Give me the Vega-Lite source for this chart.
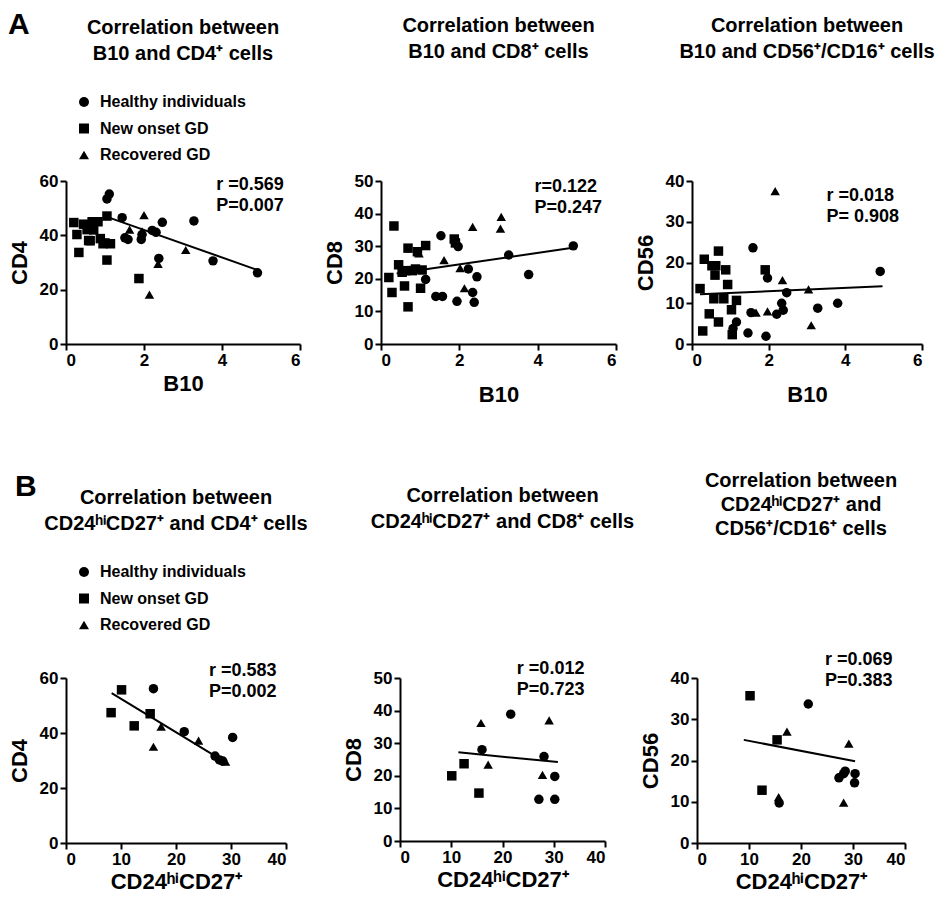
{
  "$schema": "https://vega.github.io/schema/vega-lite/v6.json",
  "padding": {"left": 8, "top": 10, "right": 2, "bottom": 2},
  "background": "white",
  "datasets": {
    "a1": [
      {"x": 1.11, "y": 55.2, "group": "Healthy individuals"},
      {"x": 1.05, "y": 53.4, "group": "Healthy individuals"},
      {"x": 1.44, "y": 46.5, "group": "Healthy individuals"},
      {"x": 1.51, "y": 39.1, "group": "Healthy individuals"},
      {"x": 1.59, "y": 38.5, "group": "Healthy individuals"},
      {"x": 1.95, "y": 40.3, "group": "Healthy individuals"},
      {"x": 1.93, "y": 38.5, "group": "Healthy individuals"},
      {"x": 2.21, "y": 41.8, "group": "Healthy individuals"},
      {"x": 2.31, "y": 41.1, "group": "Healthy individuals"},
      {"x": 2.47, "y": 44.8, "group": "Healthy individuals"},
      {"x": 2.38, "y": 31.5, "group": "Healthy individuals"},
      {"x": 3.28, "y": 45.3, "group": "Healthy individuals"},
      {"x": 3.77, "y": 30.6, "group": "Healthy individuals"},
      {"x": 4.91, "y": 26.2, "group": "Healthy individuals"},
      {"x": 0.2, "y": 44.7, "group": "New onset GD"},
      {"x": 0.28, "y": 40.3, "group": "New onset GD"},
      {"x": 0.33, "y": 33.7, "group": "New onset GD"},
      {"x": 0.45, "y": 44.1, "group": "New onset GD"},
      {"x": 0.54, "y": 42.1, "group": "New onset GD"},
      {"x": 0.58, "y": 38.1, "group": "New onset GD"},
      {"x": 0.62, "y": 38.0, "group": "New onset GD"},
      {"x": 0.67, "y": 45.0, "group": "New onset GD"},
      {"x": 0.71, "y": 42.0, "group": "New onset GD"},
      {"x": 0.82, "y": 45.0, "group": "New onset GD"},
      {"x": 0.88, "y": 38.8, "group": "New onset GD"},
      {"x": 0.95, "y": 36.9, "group": "New onset GD"},
      {"x": 1.0, "y": 37.2, "group": "New onset GD"},
      {"x": 1.05, "y": 47.1, "group": "New onset GD"},
      {"x": 1.14, "y": 36.9, "group": "New onset GD"},
      {"x": 1.05, "y": 30.9, "group": "New onset GD"},
      {"x": 1.87, "y": 24.1, "group": "New onset GD"},
      {"x": 2.0, "y": 47.4, "group": "Recovered GD"},
      {"x": 1.63, "y": 42.1, "group": "Recovered GD"},
      {"x": 1.95, "y": 41.5, "group": "Recovered GD"},
      {"x": 3.07, "y": 34.6, "group": "Recovered GD"},
      {"x": 2.36, "y": 29.5, "group": "Recovered GD"},
      {"x": 2.14, "y": 18.2, "group": "Recovered GD"}
    ],
    "a2": [
      {"x": 1.53, "y": 33.2, "group": "Healthy individuals"},
      {"x": 1.97, "y": 29.9, "group": "Healthy individuals"},
      {"x": 1.14, "y": 19.8, "group": "Healthy individuals"},
      {"x": 1.4, "y": 14.6, "group": "Healthy individuals"},
      {"x": 1.57, "y": 14.6, "group": "Healthy individuals"},
      {"x": 1.94, "y": 13.1, "group": "Healthy individuals"},
      {"x": 2.23, "y": 23.0, "group": "Healthy individuals"},
      {"x": 2.45, "y": 20.6, "group": "Healthy individuals"},
      {"x": 2.34, "y": 15.8, "group": "Healthy individuals"},
      {"x": 2.38, "y": 12.8, "group": "Healthy individuals"},
      {"x": 3.26, "y": 27.3, "group": "Healthy individuals"},
      {"x": 3.77, "y": 21.3, "group": "Healthy individuals"},
      {"x": 4.91, "y": 30.1, "group": "Healthy individuals"},
      {"x": 0.33, "y": 36.2, "group": "New onset GD"},
      {"x": 0.2, "y": 20.4, "group": "New onset GD"},
      {"x": 0.28, "y": 15.8, "group": "New onset GD"},
      {"x": 0.45, "y": 24.3, "group": "New onset GD"},
      {"x": 0.54, "y": 22.0, "group": "New onset GD"},
      {"x": 0.63, "y": 22.5, "group": "New onset GD"},
      {"x": 0.6, "y": 17.8, "group": "New onset GD"},
      {"x": 0.69, "y": 29.4, "group": "New onset GD"},
      {"x": 0.69, "y": 11.4, "group": "New onset GD"},
      {"x": 0.8, "y": 22.5, "group": "New onset GD"},
      {"x": 0.88, "y": 23.0, "group": "New onset GD"},
      {"x": 0.93, "y": 28.3, "group": "New onset GD"},
      {"x": 1.05, "y": 22.7, "group": "New onset GD"},
      {"x": 1.01, "y": 17.1, "group": "New onset GD"},
      {"x": 1.14, "y": 30.2, "group": "New onset GD"},
      {"x": 1.87, "y": 32.2, "group": "New onset GD"},
      {"x": 1.9, "y": 31.0, "group": "New onset GD"},
      {"x": 2.34, "y": 35.9, "group": "Recovered GD"},
      {"x": 1.61, "y": 25.7, "group": "Recovered GD"},
      {"x": 3.07, "y": 39.0, "group": "Recovered GD"},
      {"x": 3.05, "y": 35.4, "group": "Recovered GD"},
      {"x": 2.02, "y": 23.3, "group": "Recovered GD"},
      {"x": 2.13, "y": 17.1, "group": "Recovered GD"},
      {"x": 0.97, "y": 27.8, "group": "Recovered GD"}
    ],
    "a3": [
      {"x": 1.59, "y": 23.6, "group": "Healthy individuals"},
      {"x": 1.97, "y": 16.2, "group": "Healthy individuals"},
      {"x": 2.47, "y": 12.6, "group": "Healthy individuals"},
      {"x": 2.34, "y": 10.0, "group": "Healthy individuals"},
      {"x": 2.38, "y": 8.3, "group": "Healthy individuals"},
      {"x": 2.21, "y": 7.3, "group": "Healthy individuals"},
      {"x": 3.28, "y": 8.8, "group": "Healthy individuals"},
      {"x": 3.8, "y": 10.0, "group": "Healthy individuals"},
      {"x": 4.91, "y": 17.8, "group": "Healthy individuals"},
      {"x": 1.54, "y": 7.7, "group": "Healthy individuals"},
      {"x": 1.46, "y": 2.7, "group": "Healthy individuals"},
      {"x": 1.93, "y": 1.9, "group": "Healthy individuals"},
      {"x": 1.16, "y": 5.4, "group": "Healthy individuals"},
      {"x": 1.07, "y": 3.8, "group": "Healthy individuals"},
      {"x": 0.21, "y": 13.6, "group": "New onset GD"},
      {"x": 0.32, "y": 20.8, "group": "New onset GD"},
      {"x": 0.28, "y": 3.2, "group": "New onset GD"},
      {"x": 0.45, "y": 7.4, "group": "New onset GD"},
      {"x": 0.52, "y": 19.2, "group": "New onset GD"},
      {"x": 0.62, "y": 19.2, "group": "New onset GD"},
      {"x": 0.6, "y": 16.9, "group": "New onset GD"},
      {"x": 0.69, "y": 22.8, "group": "New onset GD"},
      {"x": 0.69, "y": 5.4, "group": "New onset GD"},
      {"x": 0.57, "y": 11.1, "group": "New onset GD"},
      {"x": 0.83, "y": 11.1, "group": "New onset GD"},
      {"x": 0.88, "y": 18.2, "group": "New onset GD"},
      {"x": 0.93, "y": 14.6, "group": "New onset GD"},
      {"x": 1.03, "y": 8.4, "group": "New onset GD"},
      {"x": 1.16, "y": 10.7, "group": "New onset GD"},
      {"x": 1.05, "y": 2.3, "group": "New onset GD"},
      {"x": 1.91, "y": 18.2, "group": "New onset GD"},
      {"x": 2.17, "y": 37.5, "group": "Recovered GD"},
      {"x": 2.36, "y": 15.7, "group": "Recovered GD"},
      {"x": 3.04, "y": 13.4, "group": "Recovered GD"},
      {"x": 3.11, "y": 4.6, "group": "Recovered GD"},
      {"x": 1.67, "y": 7.7, "group": "Recovered GD"},
      {"x": 1.97, "y": 8.0, "group": "Recovered GD"}
    ],
    "b1": [
      {"x": 8.2, "y": 47.4, "group": "New onset GD"},
      {"x": 10.1, "y": 55.7, "group": "New onset GD"},
      {"x": 12.4, "y": 42.6, "group": "New onset GD"},
      {"x": 15.3, "y": 47.0, "group": "New onset GD"},
      {"x": 15.9, "y": 56.1, "group": "Healthy individuals"},
      {"x": 21.5, "y": 40.5, "group": "Healthy individuals"},
      {"x": 30.3, "y": 38.4, "group": "Healthy individuals"},
      {"x": 27.1, "y": 31.6, "group": "Healthy individuals"},
      {"x": 27.9, "y": 30.2, "group": "Healthy individuals"},
      {"x": 28.5, "y": 29.8, "group": "Healthy individuals"},
      {"x": 15.9, "y": 35.0, "group": "Recovered GD"},
      {"x": 17.3, "y": 42.3, "group": "Recovered GD"},
      {"x": 24.1, "y": 37.2, "group": "Recovered GD"},
      {"x": 29.0, "y": 29.6, "group": "Recovered GD"}
    ],
    "b2": [
      {"x": 10.1, "y": 20.0, "group": "New onset GD"},
      {"x": 12.5, "y": 23.7, "group": "New onset GD"},
      {"x": 15.4, "y": 14.7, "group": "New onset GD"},
      {"x": 21.6, "y": 38.9, "group": "Healthy individuals"},
      {"x": 16.0, "y": 28.0, "group": "Healthy individuals"},
      {"x": 28.1, "y": 25.9, "group": "Healthy individuals"},
      {"x": 30.2, "y": 19.8, "group": "Healthy individuals"},
      {"x": 27.1, "y": 12.8, "group": "Healthy individuals"},
      {"x": 30.2, "y": 12.8, "group": "Healthy individuals"},
      {"x": 15.8, "y": 36.2, "group": "Recovered GD"},
      {"x": 17.2, "y": 23.4, "group": "Recovered GD"},
      {"x": 29.1, "y": 37.0, "group": "Recovered GD"},
      {"x": 27.8, "y": 20.3, "group": "Recovered GD"}
    ],
    "b3": [
      {"x": 10.2, "y": 35.7, "group": "New onset GD"},
      {"x": 12.5, "y": 12.8, "group": "New onset GD"},
      {"x": 15.4, "y": 25.0, "group": "New onset GD"},
      {"x": 21.4, "y": 33.7, "group": "Healthy individuals"},
      {"x": 15.8, "y": 9.7, "group": "Healthy individuals"},
      {"x": 27.3, "y": 15.8, "group": "Healthy individuals"},
      {"x": 28.2, "y": 16.8, "group": "Healthy individuals"},
      {"x": 28.5, "y": 17.4, "group": "Healthy individuals"},
      {"x": 30.4, "y": 16.8, "group": "Healthy individuals"},
      {"x": 30.3, "y": 14.6, "group": "Healthy individuals"},
      {"x": 17.3, "y": 27.0, "group": "Recovered GD"},
      {"x": 15.7, "y": 11.1, "group": "Recovered GD"},
      {"x": 29.2, "y": 24.1, "group": "Recovered GD"},
      {"x": 28.2, "y": 9.8, "group": "Recovered GD"}
    ],
    "fa1": [{"x": 1.05, "y": 46.8}, {"x": 4.94, "y": 27.1}],
    "fa2": [{"x": 0.4, "y": 21.6}, {"x": 4.94, "y": 29.6}],
    "fa3": [{"x": 0.21, "y": 12.2}, {"x": 4.97, "y": 14.2}],
    "fb1": [{"x": 8.3, "y": 54.5}, {"x": 29.1, "y": 29.2}],
    "fb2": [{"x": 11.4, "y": 27.2}, {"x": 30.8, "y": 24.2}],
    "fb3": [{"x": 9.0, "y": 25.0}, {"x": 30.4, "y": 19.8}]
  },
  "vconcat": [
    {
      "title": {"text": "A", "anchor": "start", "fontSize": 30, "offset": -24},
      "spacing": 22,
      "resolve": {"scale": {"shape": "independent", "x": "independent", "y": "independent"}, "legend": {"shape": "independent"}},
      "hconcat": [
        {
          "width": 234, "height": 163,
          "title": {"text": ["Correlation between", "B10 and CD4⁺ cells"], "offset": 20},
          "layer": [
            {"data": {"name": "a1"}, "mark": {"type": "point", "filled": true, "opacity": 1, "color": "black", "size": 90},
             "encoding": {
               "x": {"field": "x", "type": "quantitative", "scale": {"domain": [0, 6], "nice": false}, "axis": {"values": [0, 2, 4, 6], "title": "B10", "titlePadding": 5}},
               "y": {"field": "y", "type": "quantitative", "scale": {"domain": [0, 60], "nice": false}, "axis": {"values": [0, 20, 40, 60], "title": "CD4"}},
               "shape": {"field": "group", "type": "nominal", "scale": {"domain": ["Healthy individuals", "New onset GD", "Recovered GD"], "range": ["circle", "square", "triangle-up"]}, "legend": {"title": null, "orient": "top", "direction": "vertical", "padding": 10, "offset": 8}}}},
            {"data": {"name": "fa1"}, "mark": {"type": "line", "color": "black", "strokeWidth": 2},
             "encoding": {
               "x": {"field": "x", "type": "quantitative", "scale": {"domain": [0, 6], "nice": false}, "axis": {"values": [0, 2, 4, 6], "title": "B10", "titlePadding": 5}},
               "y": {"field": "y", "type": "quantitative", "scale": {"domain": [0, 60], "nice": false}, "axis": {"values": [0, 20, 40, 60], "title": "CD4"}}}},
            {"data": {"values": [{}]}, "mark": {"type": "text", "text": ["r =0.569", "P=0.007"], "align": "left", "baseline": "top", "fontSize": 18, "fontWeight": "bold", "lineHeight": 21},
             "encoding": {
               "x": {"datum": 3.85, "type": "quantitative", "scale": {"domain": [0, 6], "nice": false}, "axis": {"values": [0, 2, 4, 6], "title": "B10", "titlePadding": 5}},
               "y": {"datum": 62, "type": "quantitative", "scale": {"domain": [0, 60], "nice": false}, "axis": {"values": [0, 20, 40, 60], "title": "CD4"}}}}
          ]
        },
        {
          "spacing": 17,
          "resolve": {"scale": {"shape": "independent", "x": "independent", "y": "independent"}, "legend": {"shape": "independent"}},
          "hconcat": [
            {
              "width": 235, "height": 163,
              "title": {"text": ["Correlation between", "B10 and CD8⁺ cells"], "offset": 110},
              "layer": [
                {"data": {"name": "a2"}, "mark": {"type": "point", "filled": true, "opacity": 1, "color": "black", "size": 90},
                 "encoding": {
                   "x": {"field": "x", "type": "quantitative", "scale": {"domain": [0, 6], "nice": false}, "axis": {"values": [0, 2, 4, 6], "title": "B10", "titlePadding": 16}},
                   "y": {"field": "y", "type": "quantitative", "scale": {"domain": [0, 50], "nice": false}, "axis": {"values": [0, 10, 20, 30, 40, 50], "title": "CD8"}},
                   "shape": {"field": "group", "type": "nominal", "scale": {"domain": ["Healthy individuals", "New onset GD", "Recovered GD"], "range": ["circle", "square", "triangle-up"]}, "legend": null}}},
                {"data": {"name": "fa2"}, "mark": {"type": "line", "color": "black", "strokeWidth": 2},
                 "encoding": {
                   "x": {"field": "x", "type": "quantitative", "scale": {"domain": [0, 6], "nice": false}, "axis": {"values": [0, 2, 4, 6], "title": "B10", "titlePadding": 16}},
                   "y": {"field": "y", "type": "quantitative", "scale": {"domain": [0, 50], "nice": false}, "axis": {"values": [0, 10, 20, 30, 40, 50], "title": "CD8"}}}},
                {"data": {"values": [{}]}, "mark": {"type": "text", "text": ["r=0.122", "P=0.247"], "align": "left", "baseline": "top", "fontSize": 18, "fontWeight": "bold", "lineHeight": 21},
                 "encoding": {
                   "x": {"datum": 3.92, "type": "quantitative", "scale": {"domain": [0, 6], "nice": false}, "axis": {"values": [0, 2, 4, 6], "title": "B10", "titlePadding": 16}},
                   "y": {"datum": 51, "type": "quantitative", "scale": {"domain": [0, 50], "nice": false}, "axis": {"values": [0, 10, 20, 30, 40, 50], "title": "CD8"}}}}
              ]
            },
            {
              "width": 230, "height": 163,
              "title": {"text": ["Correlation between", "B10 and CD56⁺/CD16⁺ cells"], "offset": 110},
              "layer": [
                {"data": {"name": "a3"}, "mark": {"type": "point", "filled": true, "opacity": 1, "color": "black", "size": 90},
                 "encoding": {
                   "x": {"field": "x", "type": "quantitative", "scale": {"domain": [0, 6], "nice": false}, "axis": {"values": [0, 2, 4, 6], "title": "B10", "titlePadding": 16}},
                   "y": {"field": "y", "type": "quantitative", "scale": {"domain": [0, 40], "nice": false}, "axis": {"values": [0, 10, 20, 30, 40], "title": "CD56"}},
                   "shape": {"field": "group", "type": "nominal", "scale": {"domain": ["Healthy individuals", "New onset GD", "Recovered GD"], "range": ["circle", "square", "triangle-up"]}, "legend": null}}},
                {"data": {"name": "fa3"}, "mark": {"type": "line", "color": "black", "strokeWidth": 2},
                 "encoding": {
                   "x": {"field": "x", "type": "quantitative", "scale": {"domain": [0, 6], "nice": false}, "axis": {"values": [0, 2, 4, 6], "title": "B10", "titlePadding": 16}},
                   "y": {"field": "y", "type": "quantitative", "scale": {"domain": [0, 40], "nice": false}, "axis": {"values": [0, 10, 20, 30, 40], "title": "CD56"}}}},
                {"data": {"values": [{}]}, "mark": {"type": "text", "text": ["r =0.018", "P= 0.908"], "align": "left", "baseline": "top", "fontSize": 18, "fontWeight": "bold", "lineHeight": 21},
                 "encoding": {
                   "x": {"datum": 3.51, "type": "quantitative", "scale": {"domain": [0, 6], "nice": false}, "axis": {"values": [0, 2, 4, 6], "title": "B10", "titlePadding": 16}},
                   "y": {"datum": 38.5, "type": "quantitative", "scale": {"domain": [0, 40], "nice": false}, "axis": {"values": [0, 10, 20, 30, 40], "title": "CD56"}}}}
              ]
            }
          ]
        }
      ]
    },
    {
      "title": {"text": "B", "anchor": "start", "fontSize": 30, "offset": -31, "dx": 7},
      "spacing": 34,
      "resolve": {"scale": {"shape": "independent", "x": "independent", "y": "independent"}, "legend": {"shape": "independent"}},
      "hconcat": [
        {
          "width": 220, "height": 165,
          "title": {"text": ["Correlation between", "CD24ʰⁱCD27⁺ and CD4⁺ cells"], "offset": 20},
          "layer": [
            {"data": {"name": "b1"}, "mark": {"type": "point", "filled": true, "opacity": 1, "color": "black", "size": 90},
             "encoding": {
               "x": {"field": "x", "type": "quantitative", "scale": {"domain": [0, 40], "nice": false}, "axis": {"values": [0, 10, 20, 30, 40], "title": "CD24ʰⁱCD27⁺", "titlePadding": 4}},
               "y": {"field": "y", "type": "quantitative", "scale": {"domain": [0, 60], "nice": false}, "axis": {"values": [0, 20, 40, 60], "title": "CD4"}},
               "shape": {"field": "group", "type": "nominal", "scale": {"domain": ["Healthy individuals", "New onset GD", "Recovered GD"], "range": ["circle", "square", "triangle-up"]}, "legend": {"title": null, "orient": "top", "direction": "vertical", "padding": 10, "offset": 35}}}},
            {"data": {"name": "fb1"}, "mark": {"type": "line", "color": "black", "strokeWidth": 2},
             "encoding": {
               "x": {"field": "x", "type": "quantitative", "scale": {"domain": [0, 40], "nice": false}, "axis": {"values": [0, 10, 20, 30, 40], "title": "CD24ʰⁱCD27⁺", "titlePadding": 4}},
               "y": {"field": "y", "type": "quantitative", "scale": {"domain": [0, 60], "nice": false}, "axis": {"values": [0, 20, 40, 60], "title": "CD4"}}}},
            {"data": {"values": [{}]}, "mark": {"type": "text", "text": ["r =0.583", "P=0.002"], "align": "left", "baseline": "top", "fontSize": 18, "fontWeight": "bold", "lineHeight": 21},
             "encoding": {
               "x": {"datum": 26, "type": "quantitative", "scale": {"domain": [0, 40], "nice": false}, "axis": {"values": [0, 10, 20, 30, 40], "title": "CD24ʰⁱCD27⁺", "titlePadding": 4}},
               "y": {"datum": 66, "type": "quantitative", "scale": {"domain": [0, 60], "nice": false}, "axis": {"values": [0, 20, 40, 60], "title": "CD4"}}}}
          ]
        },
        {
          "spacing": 4,
          "resolve": {"scale": {"shape": "independent", "x": "independent", "y": "independent"}, "legend": {"shape": "independent"}},
          "hconcat": [
            {
              "width": 205, "height": 163,
              "title": {"text": ["Correlation between", "CD24ʰⁱCD27⁺ and CD8⁺ cells"], "offset": 128},
              "layer": [
                {"data": {"name": "b2"}, "mark": {"type": "point", "filled": true, "opacity": 1, "color": "black", "size": 90},
                 "encoding": {
                   "x": {"field": "x", "type": "quantitative", "scale": {"domain": [0, 40], "nice": false}, "axis": {"values": [0, 10, 20, 30, 40], "title": "CD24ʰⁱCD27⁺", "titlePadding": 4}},
                   "y": {"field": "y", "type": "quantitative", "scale": {"domain": [0, 50], "nice": false}, "axis": {"values": [0, 10, 20, 30, 40, 50], "title": "CD8"}},
                   "shape": {"field": "group", "type": "nominal", "scale": {"domain": ["Healthy individuals", "New onset GD", "Recovered GD"], "range": ["circle", "square", "triangle-up"]}, "legend": null}}},
                {"data": {"name": "fb2"}, "mark": {"type": "line", "color": "black", "strokeWidth": 2},
                 "encoding": {
                   "x": {"field": "x", "type": "quantitative", "scale": {"domain": [0, 40], "nice": false}, "axis": {"values": [0, 10, 20, 30, 40], "title": "CD24ʰⁱCD27⁺", "titlePadding": 4}},
                   "y": {"field": "y", "type": "quantitative", "scale": {"domain": [0, 50], "nice": false}, "axis": {"values": [0, 10, 20, 30, 40, 50], "title": "CD8"}}}},
                {"data": {"values": [{}]}, "mark": {"type": "text", "text": ["r =0.012", "P=0.723"], "align": "left", "baseline": "top", "fontSize": 18, "fontWeight": "bold", "lineHeight": 21},
                 "encoding": {
                   "x": {"datum": 22.8, "type": "quantitative", "scale": {"domain": [0, 40], "nice": false}, "axis": {"values": [0, 10, 20, 30, 40], "title": "CD24ʰⁱCD27⁺", "titlePadding": 4}},
                   "y": {"datum": 55.5, "type": "quantitative", "scale": {"domain": [0, 50], "nice": false}, "axis": {"values": [0, 10, 20, 30, 40, 50], "title": "CD8"}}}}
              ]
            },
            {
              "width": 208, "height": 165,
              "title": {"text": ["Correlation between", "CD24ʰⁱCD27⁺ and", "CD56⁺/CD16⁺ cells"], "offset": 112, "lineHeight": 24},
              "layer": [
                {"data": {"name": "b3"}, "mark": {"type": "point", "filled": true, "opacity": 1, "color": "black", "size": 90},
                 "encoding": {
                   "x": {"field": "x", "type": "quantitative", "scale": {"domain": [0, 40], "nice": false}, "axis": {"values": [0, 10, 20, 30, 40], "title": "CD24ʰⁱCD27⁺", "titlePadding": 4}},
                   "y": {"field": "y", "type": "quantitative", "scale": {"domain": [0, 40], "nice": false}, "axis": {"values": [0, 10, 20, 30, 40], "title": "CD56"}},
                   "shape": {"field": "group", "type": "nominal", "scale": {"domain": ["Healthy individuals", "New onset GD", "Recovered GD"], "range": ["circle", "square", "triangle-up"]}, "legend": null}}},
                {"data": {"name": "fb3"}, "mark": {"type": "line", "color": "black", "strokeWidth": 2},
                 "encoding": {
                   "x": {"field": "x", "type": "quantitative", "scale": {"domain": [0, 40], "nice": false}, "axis": {"values": [0, 10, 20, 30, 40], "title": "CD24ʰⁱCD27⁺", "titlePadding": 4}},
                   "y": {"field": "y", "type": "quantitative", "scale": {"domain": [0, 40], "nice": false}, "axis": {"values": [0, 10, 20, 30, 40], "title": "CD56"}}}},
                {"data": {"values": [{}]}, "mark": {"type": "text", "text": ["r =0.069", "P=0.383"], "align": "left", "baseline": "top", "fontSize": 18, "fontWeight": "bold", "lineHeight": 21},
                 "encoding": {
                   "x": {"datum": 24.6, "type": "quantitative", "scale": {"domain": [0, 40], "nice": false}, "axis": {"values": [0, 10, 20, 30, 40], "title": "CD24ʰⁱCD27⁺", "titlePadding": 4}},
                   "y": {"datum": 46.5, "type": "quantitative", "scale": {"domain": [0, 40], "nice": false}, "axis": {"values": [0, 10, 20, 30, 40], "title": "CD56"}}}}
              ]
            }
          ]
        }
      ]
    }
  ],
  "spacing": 66,
  "config": {
    "font": "Liberation Sans",
    "view": {"stroke": null},
    "axis": {
      "grid": false, "labelOverlap": false,
      "domainColor": "black", "domainWidth": 2,
      "tickColor": "black", "tickWidth": 2, "tickSize": 6,
      "labelColor": "black", "labelFont": "Liberation Sans", "labelFontSize": 17, "labelFontWeight": "bold", "labelPadding": 2,
      "titleColor": "black", "titleFont": "Liberation Sans", "titleFontSize": 22, "titleFontWeight": "bold", "titlePadding": 8
    },
    "title": {"font": "Liberation Sans", "fontSize": 20, "fontWeight": "bold", "color": "black", "lineHeight": 26},
    "legend": {"labelFont": "Liberation Sans", "labelFontSize": 16, "labelFontWeight": "bold", "labelColor": "black", "symbolFillColor": "black", "symbolStrokeColor": "black", "symbolSize": 100, "rowPadding": 10.5, "labelOffset": 8},
    "text": {"font": "Liberation Sans", "color": "black"}
  }
}
